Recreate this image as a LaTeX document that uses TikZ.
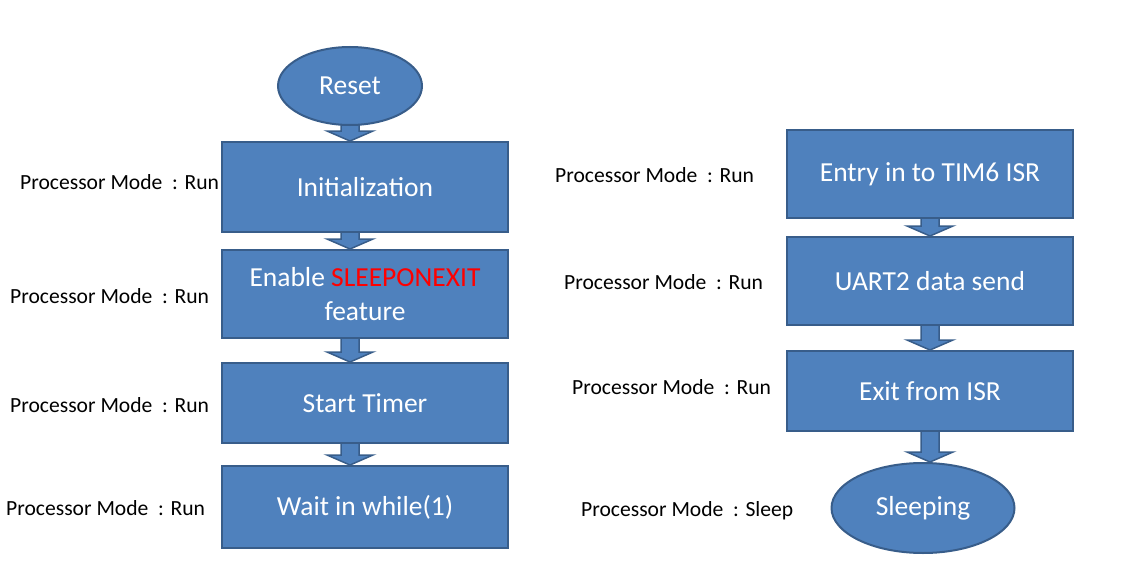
\documentclass[tikz,border=0pt]{standalone}
\usepackage{fontspec}
\setmainfont{Carlito}
\usetikzlibrary{shapes.geometric,calc,backgrounds}
\definecolor{boxfill}{HTML}{4F81BD}
\definecolor{boxline}{HTML}{385D8A}
\definecolor{hot}{HTML}{FF0000}
\tikzset{
  flowbox/.style={draw=boxline, fill=boxfill, line width=2pt, text=white, minimum width=286pt, inner sep=0pt, align=center, font=\fontsize{27.5}{34}\selectfont},
  flowoval/.style={ellipse, draw=boxline, fill=boxfill, line width=2pt, text=white, inner sep=0pt, font=\fontsize{27.5}{32}\selectfont},
  modelabel/.style={anchor=west, inner sep=0pt, text=black, font=\fontsize{21.6}{26}\selectfont},
  blockarrow/.style={draw=boxline, fill=boxfill, line width=1.5pt, line join=miter},
}
\newcommand\blkarrow[3]{%
  \path[blockarrow] let \p1=(#1.south), \p2=(#2.north), \p3=(#3) in
    (\x3-9pt,\y1+6pt) -- (\x3+9pt,\y1+6pt) -- (\x3+9pt,\y2+10pt) -- (\x3+23pt,\y2+10pt)
    -- (\x3,\y2) -- (\x3-23pt,\y2+10pt) -- (\x3-9pt,\y2+10pt) -- cycle;}
\begin{document}
\begin{tikzpicture}[x=1pt,y=-1pt]
\useasboundingbox (0,0) rectangle (1122,578);
\coordinate (lref) at (350,86);
\coordinate (rref) at (930,174);
% left column
\node[flowoval, minimum width=144pt, minimum height=78pt] (reset) at (350,86) {Reset};
\node[flowbox, minimum height=90pt] (init) at (365,187) {Initialization};
\node[flowbox, minimum height=88pt] (enable) at (365,294) {Enable \textcolor{hot}{SLEEPONEXIT}\\feature};
\node[flowbox, minimum height=80pt] (start) at (365,403) {Start Timer};
\node[flowbox, minimum height=82pt] (wait) at (365,507) {Wait in while(1)};
% right column
\node[flowbox, minimum height=88pt] (entry) at (930,174) {Entry in to TIM6 ISR};
\node[flowbox, minimum height=88pt] (uart) at (930,281) {UART2 data send};
\node[flowbox, minimum height=80pt] (exit) at (930,391) {Exit from ISR};
\node[flowoval, minimum width=183pt, minimum height=90pt] (sleep) at (923,508) {Sleeping};
% arrows behind the nodes
\begin{scope}[on background layer]
\blkarrow{reset}{init}{lref}
\blkarrow{init}{enable}{lref}
\blkarrow{enable}{start}{lref}
\blkarrow{start}{wait}{lref}
\blkarrow{entry}{uart}{rref}
\blkarrow{uart}{exit}{rref}
\blkarrow{exit}{sleep}{rref}
\end{scope}
% labels
\node[modelabel] (m1) at (20,182) {Processor Mode\ \ : Run};
\node[modelabel] (m2) at (10,296) {Processor Mode\ \ : Run};
\node[modelabel] (m3) at (10,405) {Processor Mode\ \ : Run};
\node[modelabel] (m4) at (6,508) {Processor Mode\ \ : Run};
\node[modelabel] (m5) at (555,175) {Processor Mode\ \ : Run};
\node[modelabel] (m6) at (564,282) {Processor Mode\ \ : Run};
\node[modelabel] (m7) at (572,387) {Processor Mode\ \ : Run};
\node[modelabel] (m8) at (581,511) {Processor Mode\ \ : Sleep};
\end{tikzpicture}
\end{document}
